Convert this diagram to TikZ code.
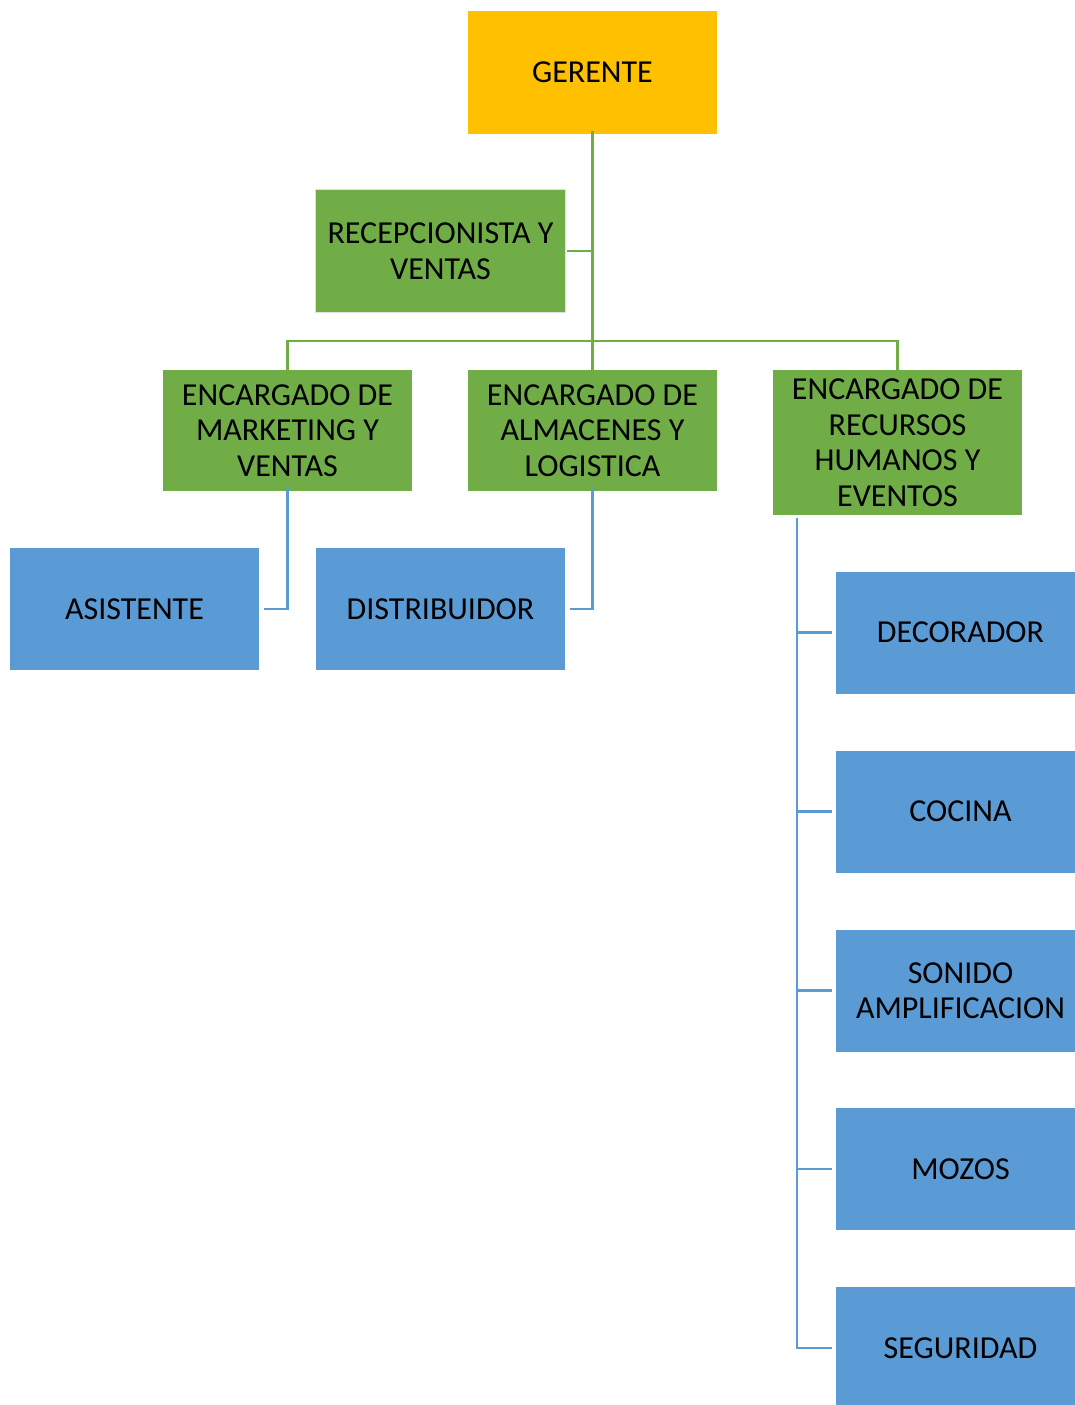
\documentclass[tikz,border=0pt]{standalone}
\usepackage{fontspec}
\setmainfont{Carlito}
\definecolor{gold}{HTML}{FFC000}
\definecolor{grn}{HTML}{70AD47}
\definecolor{blu}{HTML}{5B9BD5}
\begin{document}
\begin{tikzpicture}[x=1pt,y=-1pt,
  box/.style={rectangle,minimum width=250pt,minimum height=123pt,inner sep=0pt,align=center,
    font=\fontsize{32}{35.5}\selectfont,text=black,draw=white,line width=1pt},
  gbox/.style={box,fill=grn},
  bbox/.style={box,fill=blu},
  gl/.style={draw=grn,line width=2.6pt},
  bl/.style={draw=blu,line width=2.6pt}]
\clip (0,0) rectangle (1075,1405);
\fill[white] (0,0) rectangle (1075,1405);
\node[box,fill=gold] (ger) at (592.5,72.5) {GERENTE};
\node[gbox,draw=black!12,line width=1.5pt] (rec) at (440.5,251) {RECEPCIONISTA Y\\VENTAS};
\node[gbox,minimum height=122pt] (mkt) at (287.5,430.5) {ENCARGADO DE\\MARKETING Y\\VENTAS};
\node[gbox,minimum height=122pt] (alm) at (592.5,430.5) {ENCARGADO DE\\ALMACENES Y\\LOGISTICA};
\node[gbox,minimum height=146pt] (rh) at (897.5,442.5) {ENCARGADO DE\\RECURSOS\\HUMANOS Y\\EVENTOS};
\node[bbox] (asi) at (134.5,609) {ASISTENTE};
\node[bbox] (dis) at (440.5,609) {DISTRIBUIDOR};
\node[bbox] (dec) at (960.5,632.5) {DECORADOR};
\node[bbox] (coc) at (960.5,811.5) {COCINA};
\node[bbox] (son) at (960.5,990.5) {SONIDO\\AMPLIFICACION};
\node[bbox] (moz) at (960.5,1169) {MOZOS};
\node[bbox] (seg) at (960.5,1348) {SEGURIDAD};
% green connectors
\coordinate (bar) at (593,341);
\draw[gl] ([yshift=4pt]ger.south) -- ([yshift=-4pt]alm.north);
\draw[gl] ([xshift=1pt]rec.east) -- (rec.east -| ger.south);
\draw[gl] ([yshift=-1pt]mkt.north) -- (mkt.north |- bar) -- (rh.north |- bar) -- ([yshift=-1pt]rh.north);
% blue connectors
\draw[bl] ([yshift=4pt]mkt.south) -- (mkt.south |- asi.east) -- ([xshift=4pt]asi.east);
\draw[bl] ([yshift=4pt]alm.south) -- (alm.south |- dis.east) -- ([xshift=4pt]dis.east);
\coordinate (rx) at (797,518);
\draw[bl] (rx) -- (rx |- seg.west) -- ([xshift=-3pt]seg.west);
\foreach \n in {dec,coc,son,moz}{
  \draw[bl] (rx |- \n.west) -- ([xshift=-3pt]\n.west);
}
\end{tikzpicture}
\end{document}
